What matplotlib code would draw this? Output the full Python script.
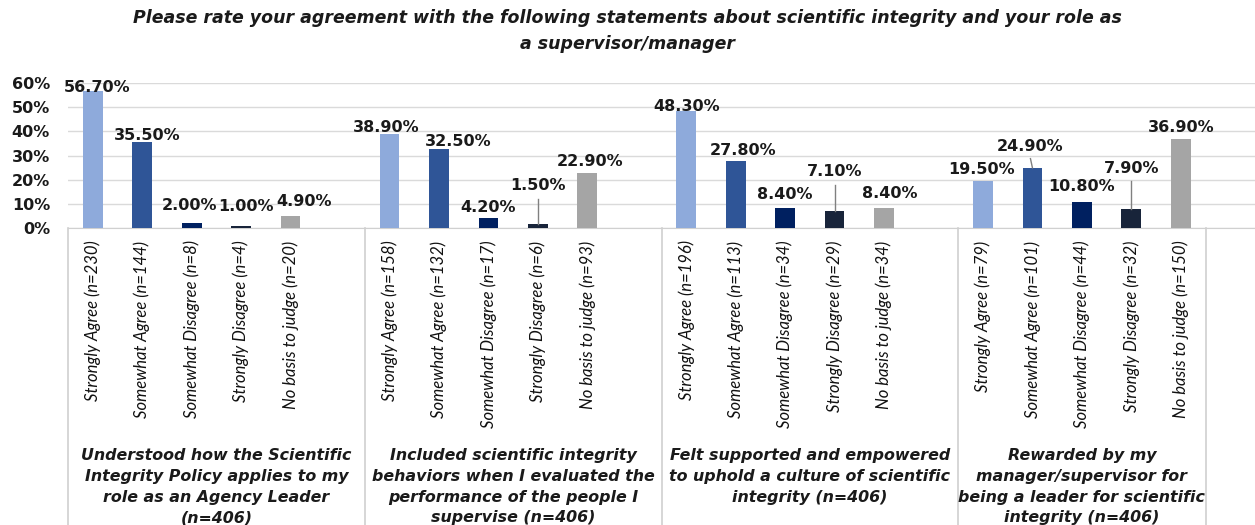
import matplotlib
matplotlib.use("Agg")
import matplotlib.pyplot as plt

# survey results, percent of respondents
groups = [
    "Understood how the Scientific\nIntegrity Policy applies to my\nrole as an Agency Leader\n(n=406)",
    "Included scientific integrity\nbehaviors when I evaluated the\nperformance of the people I\nsupervise (n=406)",
    "Felt supported and empowered\nto uphold a culture of scientific\nintegrity (n=406)",
    "Rewarded by my\nmanager/supervisor for\nbeing a leader for scientific\nintegrity (n=406)",
]
answers = ["Strongly Agree", "Somewhat Agree", "Somewhat Disagree",
           "Strongly Disagree", "No basis to judge"]
pct = [
    [56.7, 35.5, 2.0, 1.0, 4.9],
    [38.9, 32.5, 4.2, 1.5, 22.9],
    [48.3, 27.8, 8.4, 7.1, 8.4],
    [19.5, 24.9, 10.8, 7.9, 36.9],
]
counts = [
    [230, 144, 8, 4, 20],
    [158, 132, 17, 6, 93],
    [196, 113, 34, 29, 34],
    [79, 101, 44, 32, 150],
]

colors = ["#8eaadb", "#2f5597", "#002060", "#18243a", "#a5a5a5"]

# label nudges (x in category slots, y in percentage points) as placed in the original
lab_dx = [[0.08, 0.1, -0.04, 0.1, 0.28],
          [-0.06, 0.38, 0.0, 0.0, 0.06],
          [0.0, 0.14, 0.0, 0.0, 0.12],
          [-0.04, -0.04, 0.0, 0.0, 0.0]]
lab_dy = [[1.6, 2.6, 7.5, 7.7, 5.9],
          [2.5, 3.5, 4.1, 15.9, 4.8],
          [1.8, 4.1, 5.3, 16.1, 5.7],
          [4.9, 9.0, 6.2, 16.9, 4.5]]
leader = [[0, 0, 0, 0, 0],
          [0, 0, 0, 1, 0],
          [0, 0, 0, 1, 0],
          [0, 1, 0, 1, 0]]

W, H = 1255, 525
fig = plt.figure(figsize=(W / 100, H / 100), dpi=100)
ax = fig.add_axes([68 / W, (H - 228) / H, (W - 68) / W, (228 - 83) / H])

slot = len(answers) + 1
xs, labels = [], []
for g in range(len(groups)):
    for i in range(len(answers)):
        x = g * slot + i + 0.5
        v = pct[g][i]
        ax.bar(x, v, width=0.4, color=colors[i], zorder=3)
        lx = x + lab_dx[g][i]
        ly = v + lab_dy[g][i]
        ax.text(lx, ly, f"{v:.2f}%", ha="center", va="center",
                fontsize=11.5, fontweight="bold", color="#1a1a1a", zorder=5,
                clip_on=False)
        if leader[g][i]:
            ax.plot([lx, x], [ly - 5.2, v], color="#808080", lw=1, zorder=4)
        xs.append(x)
        labels.append(f"{answers[i]} (n={counts[g][i]})")

ax.set_xlim(0, 24)
ax.set_ylim(0, 60)
ax.set_yticks(range(0, 61, 10))
ax.set_yticklabels([f"{t}%" for t in range(0, 61, 10)], fontsize=11.5,
                   fontweight="bold", color="#1a1a1a")
ax.set_xticks(xs)
ax.set_xticklabels(labels, rotation=90, ha="center", va="top",
                   fontsize=12, family="Lato", style="italic", color="#111111")
ax.tick_params(axis="both", length=0)
ax.tick_params(axis="y", pad=13)
ax.tick_params(axis="x", pad=9)

ax.grid(axis="y", color="#dadada", lw=1, zorder=0)
for s in ["top", "right", "left"]:
    ax.spines[s].set_visible(False)
ax.spines["bottom"].set_color("#d0d0d0")

# group separators and group captions under the axis
trans = ax.get_xaxis_transform()
for b in [0, slot, 2 * slot, 3 * slot, 3 * slot + len(answers)]:
    ax.plot([b, b], [0, -2.1], color="#d0d0d0", lw=1.2, transform=trans,
            clip_on=False)
for g, name in enumerate(groups):
    gx = g * slot + min(slot, 23 - g * slot) / 2
    ax.text(gx, -(448 - 228) / 145, name, transform=trans, ha="center",
            va="top", fontsize=11.4, fontweight="bold", style="oblique",
            linespacing=1.48, color="#1a1a1a", clip_on=False)

fig.text(0.5, 1 - 9 / H,
         "Please rate your agreement with the following statements about scientific integrity and your role as\na supervisor/manager",
         ha="center", va="top", fontsize=12.5, fontweight="bold",
         style="oblique", linespacing=1.57, color="#1a1a1a")

fig.savefig("out.png", dpi=100)
